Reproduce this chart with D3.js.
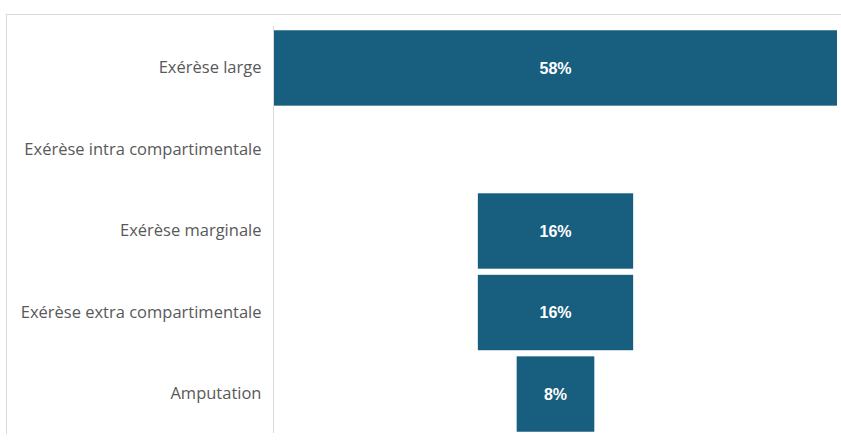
<!DOCTYPE html>
<html>
<head>
<meta charset="utf-8">
<script src="https://cdn.jsdelivr.net/npm/d3@7"></script>
<style>
  html, body { margin: 0; padding: 0; background: #ffffff; }
  svg { display: block; }
</style>
</head>
<body>
<svg id="chart" width="841" height="441"></svg>
<script>
// Types d'exérèse et part de chaque type (%)
const categories = [
  "Exérèse large",
  "Exérèse intra compartimentale",
  "Exérèse marginale",
  "Exérèse extra compartimentale",
  "Amputation"
];
const values = [58, 0, 16, 16, 8];
const valueLabels = ["58%", "", "16%", "16%", "8%"];

const svg = d3.select("#chart");

// Zone du graphique (cadre gris clair en haut et à gauche)
svg.append("line")
  .attr("x1", 6).attr("x2", 841).attr("y1", 14.5).attr("y2", 14.5)
  .attr("stroke", "#d9d9d9").attr("stroke-width", 1);
svg.append("line")
  .attr("x1", 6.5).attr("x2", 6.5).attr("y1", 14).attr("y2", 434)
  .attr("stroke", "#d9d9d9").attr("stroke-width", 1);

const axisX = 273.5;
const left = 274, right = 837;
const center = (left + right) / 2;

const y = d3.scaleBand()
  .domain(categories)
  .range([27, 435])
  .paddingInner(0.075)
  .paddingOuter(0.04);

const w = d3.scaleLinear()
  .domain([0, d3.max(values)])
  .range([0, right - left]);

// Barres centrées (entonnoir)
svg.append("g").selectAll("rect")
  .data(categories)
  .join("rect")
  .attr("x", (d, i) => center - w(values[i]) / 2)
  .attr("y", d => y(d))
  .attr("width", (d, i) => w(values[i]))
  .attr("height", y.bandwidth())
  .attr("fill", "#185e7f");

// Axe vertical des catégories
const axis = d3.axisLeft(y).tickSize(0).tickPadding(12);
const gAxis = svg.append("g")
  .attr("transform", `translate(${axisX},0)`)
  .call(axis);
gAxis.select(".domain").attr("stroke", "#d9d9d9").attr("d", `M0,26V433`);
gAxis.selectAll("text")
  .attr("fill", "#595959")
  .attr("font-family", "'Open Sans', 'Noto Sans', sans-serif")
  .attr("font-size", 16.5);

// Étiquettes de valeur
svg.append("g").selectAll("text")
  .data(categories)
  .join("text")
  .attr("x", center)
  .attr("y", d => y(d) + y.bandwidth() / 2)
  .attr("dy", "0.35em")
  .attr("text-anchor", "middle")
  .attr("fill", "#ffffff")
  .attr("font-family", "'Liberation Sans', Arial, sans-serif")
  .attr("font-weight", "bold")
  .attr("font-size", 16)
  .text((d, i) => valueLabels[i]);
</script>
</body>
</html>
